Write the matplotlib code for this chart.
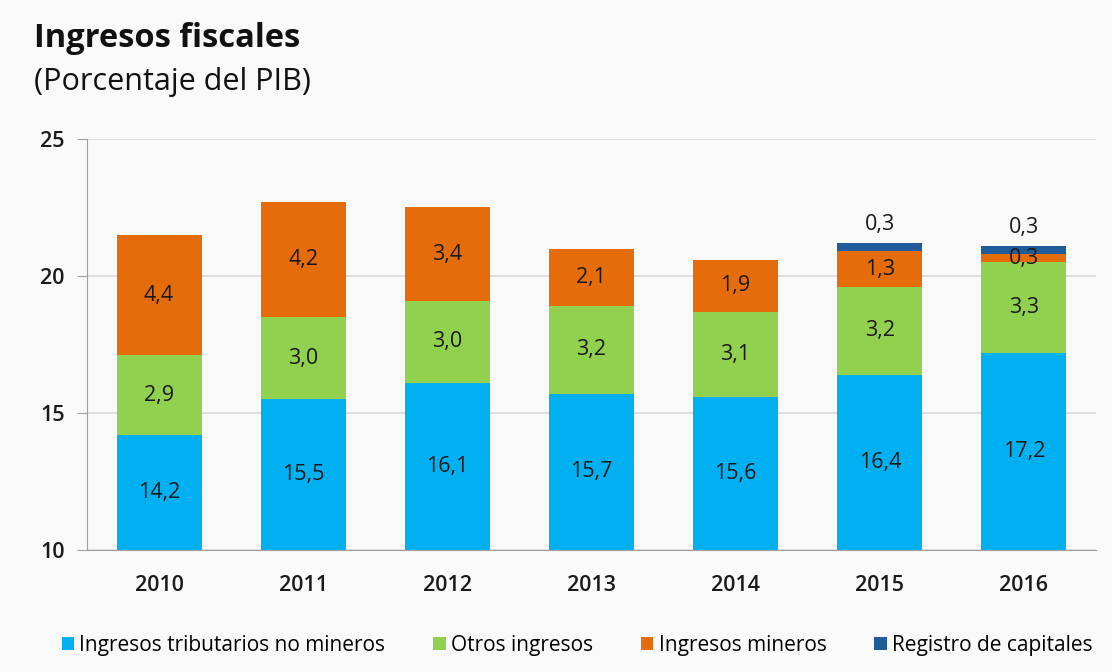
import matplotlib
matplotlib.use("Agg")
import matplotlib.pyplot as plt
import numpy as np

years = ["2010", "2011", "2012", "2013", "2014", "2015", "2016"]
tributarios = [14.2, 15.5, 16.1, 15.7, 15.6, 16.4, 17.2]
otros = [2.9, 3.0, 3.0, 3.2, 3.1, 3.2, 3.3]
mineros = [4.4, 4.2, 3.4, 2.1, 1.9, 1.3, 0.3]
registro = [0.0, 0.0, 0.0, 0.0, 0.0, 0.3, 0.3]

series_names = ["Ingresos tributarios no mineros", "Otros ingresos",
                "Ingresos mineros", "Registro de capitales"]
colors = ["#00B0F0", "#92D050", "#E46C0A", "#1F5C99"]

plt.rcParams['font.family'] = ['Open Sans', 'DejaVu Sans']

fig = plt.figure(figsize=(11.12, 6.72), dpi=100)
fig.patch.set_facecolor("#F9F9F9")
ax = fig.add_axes([0.0782, 0.1815, 0.9074, 0.6117])
ax.set_facecolor("#F9F9F9")

x = np.arange(len(years))
w = 0.59
ymin = 10
data = [tributarios, otros, mineros, registro]
bottom = np.zeros(len(years))
for vals, col, name in zip(data, colors, series_names):
    vals = np.array(vals)
    ax.bar(x, vals, w, bottom=bottom, color=col, label=name, zorder=3)
    for i, v in enumerate(vals):
        if v <= 0:
            continue
        lo = max(bottom[i], ymin)
        hi = bottom[i] + v
        txt = f"{v:.1f}".replace(".", ",")
        if name == "Registro de capitales":
            ax.text(x[i], hi + 0.3, txt, ha="center", va="bottom",
                    fontsize=15.5, color="#1a1a1a", zorder=4)
        else:
            ax.text(x[i], (lo + hi) / 2, txt, ha="center", va="center",
                    fontsize=15.5, color="#1a1a1a", zorder=4)
    bottom += vals

ax.set_ylim(10, 25)
ax.set_xlim(-0.5, 6.5)
ax.set_yticks([10, 15, 20, 25])
ax.set_xticks(x)
ax.set_xticklabels(years)
ax.tick_params(axis="x", length=0, pad=18, labelsize=15.5, labelcolor="#1a1a1a")
ax.tick_params(axis="y", length=7, color="#A0A0A0", pad=9, labelsize=15.5,
               labelcolor="#1a1a1a")
for lab in ax.get_xticklabels() + ax.get_yticklabels():
    lab.set_fontweight("semibold")
ax.yaxis.grid(True, color="#D9D9D9", linewidth=1.2, zorder=0)
for s in ["top", "right"]:
    ax.spines[s].set_visible(False)
ax.spines["left"].set_color("#A0A0A0")
ax.spines["bottom"].set_color("#A0A0A0")

fig.text(0.031, 0.943, "Ingresos fiscales", fontsize=23.5, fontweight="bold",
         ha="left", va="center", color="#111111")
fig.text(0.031, 0.878, "(Porcentaje del PIB)", fontsize=22,
         ha="left", va="center", color="#111111")

leg = fig.legend(loc="center", bbox_to_anchor=(0.519, 0.04), ncol=4,
                 frameon=False, fontsize=15, handlelength=0.6,
                 handleheight=0.6, handletextpad=0.25, columnspacing=2.3)

fig.savefig("out.png", dpi=100, facecolor=fig.get_facecolor())
